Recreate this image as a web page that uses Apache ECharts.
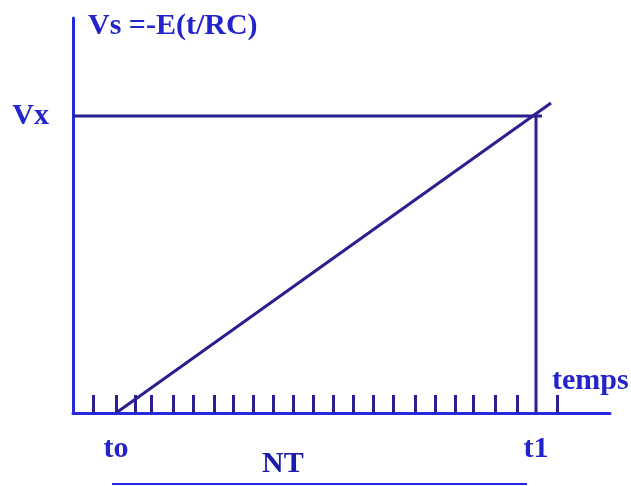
<!DOCTYPE html>
<html>
<head>
<meta charset="utf-8">
<script src="https://cdn.jsdelivr.net/npm/echarts@6/dist/echarts.min.js"></script>
<style>html,body{margin:0;padding:0;background:#fff;}#c{width:631px;height:486px;}</style>
</head>
<body>
<div id="c"></div>
<script>
// ---- data ----
const xMax = 26.85;
const yMax = 10;
const t0 = 2.15;
const t1 = 23.15;
const vx = 7.52;
const rampEnd = [23.9, 7.85];
const xLabelValues = [t0, t1];
const xLabelTexts = ['to', 't1'];
const yLabelValues = [vx];
const yLabelTexts = ['Vx'];
const tickValues = [1, 2.15, 3.1, 3.9, 5, 6, 7.05, 8, 9, 10, 11, 12, 13, 14, 15, 16, 17.1, 18.1, 19.1, 20, 21.1, 22.2, 24.2];
const rampLine = [[t0, 0], rampEnd];
const vxLine = [[0, vx], [23.45, vx]];
const t1Line = [[t1, vx], [t1, 0]];
const titleText = 'Vs =-E(t/RC)';
const xName = 'temps';
const spanText = 'NT';

const axisBlue = '#2828e0';
const navy = '#2a1f8f';
const textBlue = '#2424cc';
const font = 'Liberation Serif';

const chart = echarts.init(document.getElementById('c'), null, {renderer: 'canvas'});
const lineSeries = (d) => ({
  type: 'line', data: d, symbol: 'none', silent: true,
  lineStyle: {color: navy, width: 3}, z: 3
});
chart.setOption({
  animation: false,
  backgroundColor: '#fff',
  grid: {left: 73, top: 18, width: 537, height: 395},
  xAxis: {
    type: 'value', min: 0, max: xMax,
    splitLine: {show: false},
    axisLine: {show: true, lineStyle: {color: axisBlue, width: 3}},
    axisTick: {show: true, inside: true, length: 18, customValues: tickValues,
      lineStyle: {color: navy, width: 3}},
    axisLabel: {show: true, customValues: xLabelValues, margin: 21,
      formatter: (v) => xLabelTexts[xLabelValues.indexOf(v)] || '',
      color: textBlue, fontFamily: font, fontWeight: 'bold', fontSize: 30}
  },
  yAxis: {
    type: 'value', min: 0, max: yMax,
    splitLine: {show: false},
    axisLine: {show: true, lineStyle: {color: axisBlue, width: 3}},
    axisTick: {show: false},
    axisLabel: {show: true, customValues: yLabelValues, margin: 24,
      formatter: (v) => yLabelTexts[yLabelValues.indexOf(v)] || '',
      color: textBlue, fontFamily: font, fontWeight: 'bold', fontSize: 30}
  },
  graphic: [
    {type: 'text', left: 88, top: 11, style: {text: titleText, fill: textBlue,
      font: 'bold 30px "' + font + '"'}},
    {type: 'text', left: 552, top: 366, style: {text: xName, fill: textBlue,
      font: 'bold 30px "' + font + '"'}},
    {type: 'text', left: 262, top: 449, style: {text: spanText, fill: '#1c1ca8',
      font: 'bold 30px "' + font + '"'}},
    {type: 'line', shape: {x1: 112, y1: 484, x2: 527, y2: 484},
      style: {stroke: axisBlue, lineWidth: 2}}
  ],
  series: [lineSeries(rampLine), lineSeries(vxLine), lineSeries(t1Line)]
});
</script>
</body>
</html>
